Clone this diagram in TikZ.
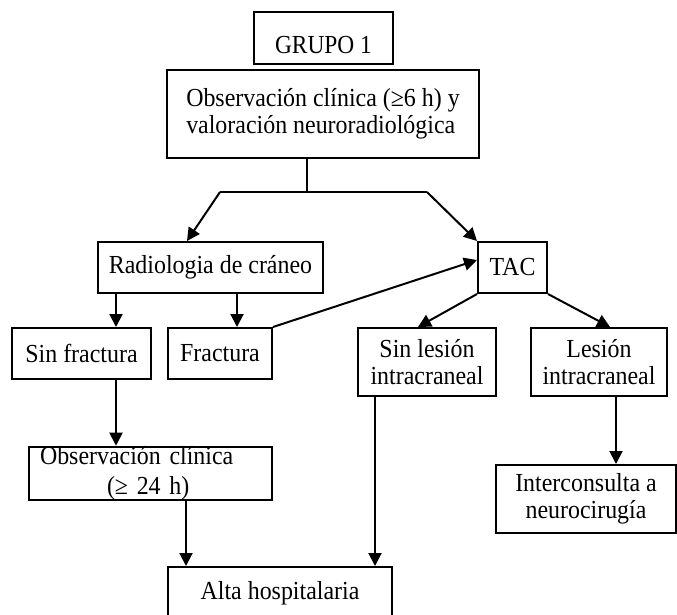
\documentclass[tikz,border=0pt]{standalone}
\usepackage{fontspec}
\setmainfont{Liberation Serif}[FakeStretch=0.92]
\newfontfamily\narrowfont{Liberation Serif}[FakeStretch=0.9]
\usetikzlibrary{arrows.meta, calc}

\tikzset{
  caja/.style={draw, line width=2pt, inner sep=4pt, align=center},
  flecha/.style={-{Triangle[length=13pt, width=13pt]}, line width=2pt}
}

\begin{document}
\fontsize{26pt}{27pt}\selectfont
\begin{tikzpicture}[x=1pt, y=-1pt, line width=2pt]
        \useasboundingbox (0,0) rectangle (677,614);
        % Top boxes
        \node[caja, minimum width=139pt, minimum height=52pt, text height=30pt, text depth=0pt, font=\narrowfont] (grupo) at (323.5,38) {GRUPO 1};
        \node[caja, align=left, minimum width=312pt, minimum height=88pt] (obs) at (323,114) {Observación clínica (≥6 h) y\\valoración neuroradiológica};
        % Split of the branch
        \coordinate (split) at (307,192);
        \coordinate (izq) at (220,192);
        \coordinate (der) at (427,192);
        \draw (obs.south -| split) -- (split);
        \draw (izq) -- (der);
        % Second row
        \node[caja, minimum width=225pt, minimum height=51pt] (radio) at (210.5,267.5) {Radiologia de cráneo};
        \node[caja, minimum width=69pt, minimum height=51pt] (tac) at (512.5,267.5) {TAC};
        \draw[flecha] (izq) -- ([xshift=-23.5pt]radio.north);
        \draw[flecha] (der) -- (tac.north west);
        % Third row
        \node[caja, minimum width=139pt, minimum height=51pt] (sinfrac) at (81.5,353.5) {Sin fractura};
        \node[caja, minimum width=104pt, minimum height=51pt] (frac) at (220,353.5) {Fractura};
        \node[caja, minimum width=138pt, minimum height=68pt] (sinles) at (427,362) {Sin lesión\\intracraneal};
        \node[caja, minimum width=136pt, minimum height=68pt] (les) at (599,362) {Lesión\\intracraneal};
        \draw[flecha] ([xshift=34.5pt]sinfrac.north |- radio.south) -- ([xshift=34.5pt]sinfrac.north);
        \draw[flecha] ([xshift=17pt]frac.north |- radio.south) -- ([xshift=17pt]frac.north);
        \draw[flecha] (frac.north east) -- ([yshift=7.5pt]tac.west);
        \draw[flecha] (tac.south west) -- ([xshift=-9pt]sinles.north);
        \draw[flecha] (tac.south east) -- ([xshift=11pt]les.north);
        % Lower boxes
        \node[caja, align=left, text width=221pt, inner xsep=11pt, inner ysep=0pt, minimum height=51pt, font=\fontsize{26pt}{30pt}\selectfont] (obs2) at (150.5,473.5) {Observación clínica\\\hspace*{67pt}(≥ 24 h)};
        \node[caja, minimum width=180pt, minimum height=68pt] (inter) at (586,499) {Interconsulta a\\neurocirugía};
        \node[caja, minimum width=224pt, minimum height=52pt] (alta) at (280,593) {Alta hospitalaria};
        \draw[flecha] ([xshift=34.5pt]sinfrac.south) -- ([xshift=34.5pt]sinfrac.south |- obs2.north);
        \draw[flecha] ([xshift=35.5pt]obs2.south) -- ([xshift=35.5pt]obs2.south |- alta.north);
        \draw[flecha] ([xshift=-52pt]sinles.south) -- ([xshift=-52pt]sinles.south |- alta.north);
        \draw[flecha] ([xshift=17pt]les.south) -- ([xshift=17pt]les.south |- inter.north);
    \end{tikzpicture}
\end{document}
